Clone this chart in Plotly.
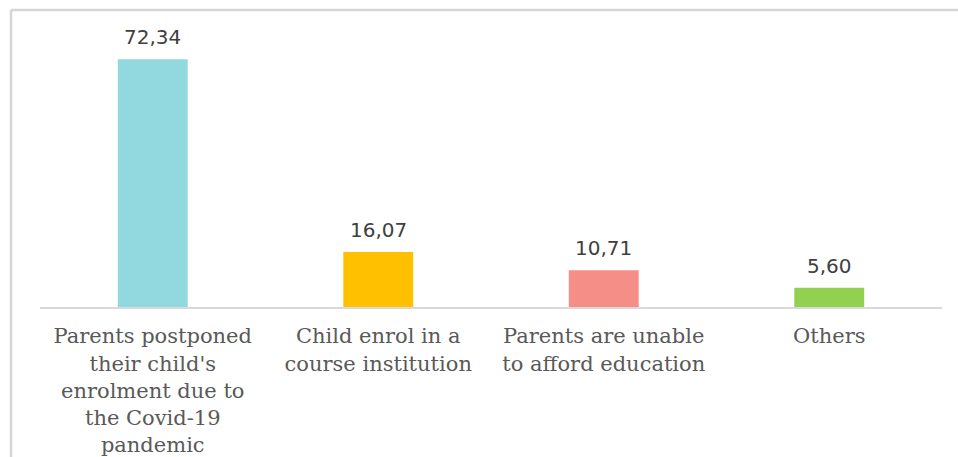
import plotly.graph_objects as go

categories = [
    "Parents postponed<br>their child's<br>enrolment due to<br>the Covid-19<br>pandemic",
    "Child enrol in a<br>course institution",
    "Parents are unable<br>to afford education",
    "Others",
]
values = [72.34, 16.07, 10.71, 5.60]
value_labels = ["72,34", "16,07", "10,71", "5,60"]
colors = ["#92D8DF", "#FFC000", "#F48E87", "#92D050"]

W, H = 958, 457
ML, MR, MT, MB = 40, 16, 33, 150
pw = W - ML - MR
ph = H - MT - MB

fig = go.Figure()
fig.add_trace(go.Bar(
    x=categories, y=values, width=0.31,
    marker=dict(color=colors, line=dict(width=0)),
    hoverinfo="skip",
))

for c, v, t in zip(categories, values, value_labels):
    fig.add_annotation(
        x=c, y=v, text=t, showarrow=False, yanchor="bottom", yshift=8,
        font=dict(family="DejaVu Sans", size=20, color="#404040"),
    )

# frame lines (left & top)
lx = (11 - ML) / pw
ty = (H - MB - 10) / ph
fig.add_shape(type="line", xref="paper", yref="paper", x0=lx, x1=lx, y0=-2, y1=ty,
              line=dict(color="#d6d6d6", width=2.5))
fig.add_shape(type="line", xref="paper", yref="paper", x0=lx, x1=2, y0=ty, y1=ty,
              line=dict(color="#d6d6d6", width=2.5))

fig.update_layout(
    width=W, height=H,
    margin=dict(l=ML, r=MR, t=MT, b=MB, autoexpand=False),
    paper_bgcolor="white", plot_bgcolor="white",
    showlegend=False,
    xaxis=dict(
        showline=True, linecolor="#d9d9d9", linewidth=2,
        ticks="", showgrid=False, zeroline=False,
        automargin=False,
        ticklabelstandoff=9,
        tickfont=dict(family="DejaVu Serif", size=21, color="#595959"),
    ),
    yaxis=dict(range=[0, 80], visible=False, showgrid=False, zeroline=False),
)

fig.write_html("out.html")
